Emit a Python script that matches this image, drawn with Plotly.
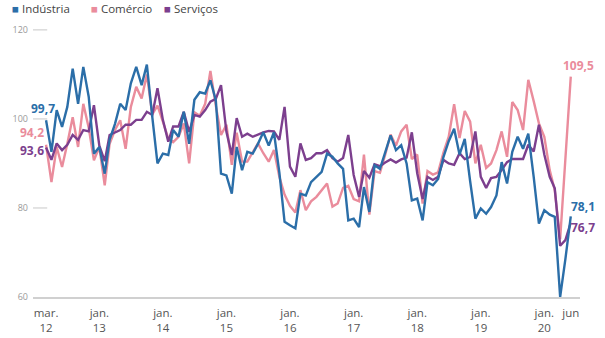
import pandas as pd
import plotly.graph_objects as go

# Monthly index, March 2012 to June 2020
months = pd.date_range("2012-03-01", "2020-06-01", freq="MS")

industria = [
    99.7, 92.6, 102.0, 98.2, 102.7, 111.3, 103.4, 111.7, 105.0, 92.2,
    93.7, 87.7, 95.3, 98.9, 103.4, 102.0, 108.0, 111.7, 107.6, 112.2,
    100.5, 90.0, 92.2, 91.9, 97.5, 96.0, 101.6, 94.4, 104.3, 106.0,
    105.7, 108.7, 104.2, 87.7, 87.3, 83.2, 93.7, 88.5, 92.6, 92.2,
    94.4, 97.0, 94.0, 97.0, 88.0, 76.9, 76.1, 75.4, 83.2, 82.8,
    85.8, 87.0, 88.1, 92.2, 91.5, 90.0, 88.8, 77.2, 77.6, 75.7,
    84.7, 79.1, 89.6, 88.8, 92.5, 96.3, 93.0, 94.1, 90.0, 81.7,
    82.1, 77.2, 85.8, 85.1, 86.5, 91.5, 95.0, 97.8, 92.0, 95.5,
    86.0, 77.6, 79.9, 78.7, 80.2, 82.8, 90.3, 85.5, 92.6, 96.0,
    93.3, 96.7, 87.0, 76.5, 79.5, 78.5, 78.0, 60.0, 68.5, 78.1,
]

comercio = [
    94.2, 85.8, 93.7, 89.2, 94.4, 100.4, 93.7, 103.4, 98.0, 90.7,
    93.7, 85.1, 94.4, 97.5, 99.7, 93.3, 102.7, 107.2, 104.6, 110.0,
    101.0, 103.0, 99.4, 95.6, 94.8, 96.0, 99.0, 90.0, 101.5, 100.7,
    103.4, 110.8, 103.0, 96.4, 98.7, 89.7, 96.9, 90.4, 90.4, 92.6,
    94.5, 92.3, 90.4, 93.0, 87.0, 83.0, 80.5, 79.0, 84.0, 79.5,
    81.5, 82.5, 84.0, 85.5, 80.3, 81.0, 84.5, 85.0, 82.0, 81.5,
    92.0, 78.5, 88.3, 87.9, 92.0, 96.5, 94.0, 97.2, 98.7, 91.0,
    92.0, 81.0, 88.3, 87.5, 88.0, 92.5, 96.0, 103.3, 95.7, 101.8,
    99.4, 90.0, 94.2, 89.0, 90.0, 93.0, 97.2, 91.5, 103.8, 102.0,
    97.5, 108.8, 104.0, 99.0, 96.0, 88.5, 84.0, 73.0, 91.0, 109.5,
]

servicos = [
    93.6, 90.8, 94.5, 93.0, 94.2, 96.4, 95.3, 97.5, 97.2, 103.1,
    94.0, 90.5, 96.4, 97.0, 97.5, 98.7, 98.7, 99.8, 99.8, 101.6,
    100.9, 106.9, 99.8, 94.9, 98.3, 98.3, 101.6, 97.1, 100.9, 100.5,
    102.0, 103.9, 104.5, 107.6, 97.1, 91.9, 100.2, 96.0, 96.7, 96.0,
    96.5, 97.0, 97.3, 97.2, 95.3, 102.7, 89.3, 87.0, 94.5, 90.8,
    91.2, 92.3, 92.3, 93.0, 91.2, 90.4, 91.2, 96.4, 87.4, 82.5,
    88.3, 86.8, 89.8, 89.4, 90.2, 90.9, 90.2, 90.9, 91.3, 97.0,
    87.8, 82.0, 87.0, 86.3, 87.0, 90.8, 90.0, 89.7, 92.3, 91.0,
    91.5, 97.2, 87.0, 84.5, 86.7, 87.0, 88.5, 90.3, 91.0, 91.0,
    91.0, 94.2, 92.7, 98.7, 92.0, 87.0, 84.4, 71.5, 72.8, 76.7,
]

tick_dates = ["2012-03-01", "2013-01-01", "2014-01-01", "2015-01-01", "2016-01-01",
              "2017-01-01", "2018-01-01", "2019-01-01", "2020-01-01", "2020-06-01"]
tick_text = ["mar.<br>12", "jan.<br>13", "jan.<br>14", "jan.<br>15", "jan.<br>16",
             "jan.<br>17", "jan.<br>18", "jan.<br>19", "jan.<br>20", "jun"]
y_ticks = [60, 80, 100, 120]

names = ["Indústria", "Comércio", "Serviços"]
colors = {"Indústria": "#2b6ea8", "Comércio": "#ea8c9c", "Serviços": "#7c3f8e"}
series = {"Indústria": industria, "Comércio": comercio, "Serviços": servicos}

FONT = "Open Sans"

fig = go.Figure()
for name in ["Comércio", "Serviços", "Indústria"]:
    fig.add_trace(go.Scatter(
        x=months, y=series[name], mode="lines", name=name,
        line=dict(color=colors[name], width=2.4), showlegend=False,
    ))

def fmt(v):
    return f"{v:.1f}".replace(".", ",")

# value labels at the start and end of each series
start_offsets = {"Indústria": (-3, 12), "Comércio": (-14, 12), "Serviços": (-14, -3)}
end_offsets = {"Indústria": (12, 10), "Comércio": (8, 11), "Serviços": (12, -5)}
annotations = []
for name in names:
    vals = series[name]
    for idx, offs in ((0, start_offsets), (-1, end_offsets)):
        dx, dy = offs[name]
        annotations.append(dict(
            x=months[idx], y=vals[idx], xref="x", yref="y",
            text=f"<b>{fmt(vals[idx])}</b>", showarrow=False,
            xshift=dx, yshift=dy, xanchor="center", yanchor="middle",
            font=dict(family=FONT, size=12, color=colors[name]),
        ))

# legend row drawn as coloured squares with labels
plot_left, plot_w = 33, 547
plot_top, plot_h = 21, 276
legend_x = [10, 89, 162]
for name, px in zip(names, legend_x):
    annotations.append(dict(
        x=(px - plot_left) / plot_w, y=1 + (plot_top - 8) / plot_h,
        xref="paper", yref="paper", xanchor="left", yanchor="middle",
        text=f'<span style="color:{colors[name]}">■</span> {name}',
        showarrow=False, font=dict(family=FONT, size=11.5, color="#444"),
    ))

# short stubs next to the value ticks
shapes = []
for v in y_ticks[1:]:
    shapes.append(dict(type="line", xref="paper", yref="y", x0=0, x1=0.026,
                       y0=v, y1=v, line=dict(color="#c8c8c8", width=1)))

fig.update_layout(
    width=605, height=338,
    margin=dict(l=plot_left, r=605 - plot_left - plot_w, t=plot_top, b=338 - plot_top - plot_h),
    paper_bgcolor="white", plot_bgcolor="white",
    annotations=annotations, shapes=shapes,
    font=dict(family=FONT),
)
fig.update_xaxes(
    range=["2011-12-17", "2020-07-24"], showgrid=False, zeroline=False,
    showline=True, linecolor="#d0d0d0", linewidth=1.5,
    tickmode="array", tickvals=tick_dates, ticktext=tick_text,
    ticks="", ticklabelstandoff=4, automargin=False,
    tickfont=dict(family=FONT, size=11.5, color="#555"),
)
fig.update_yaxes(
    range=[60, 122], showgrid=False, zeroline=False, showline=False,
    tickmode="array", tickvals=y_ticks, ticks="", ticklabelstandoff=4,
    automargin=False,
    tickfont=dict(family=FONT, size=9, color="#999"),
)

fig.write_html("out.html")
